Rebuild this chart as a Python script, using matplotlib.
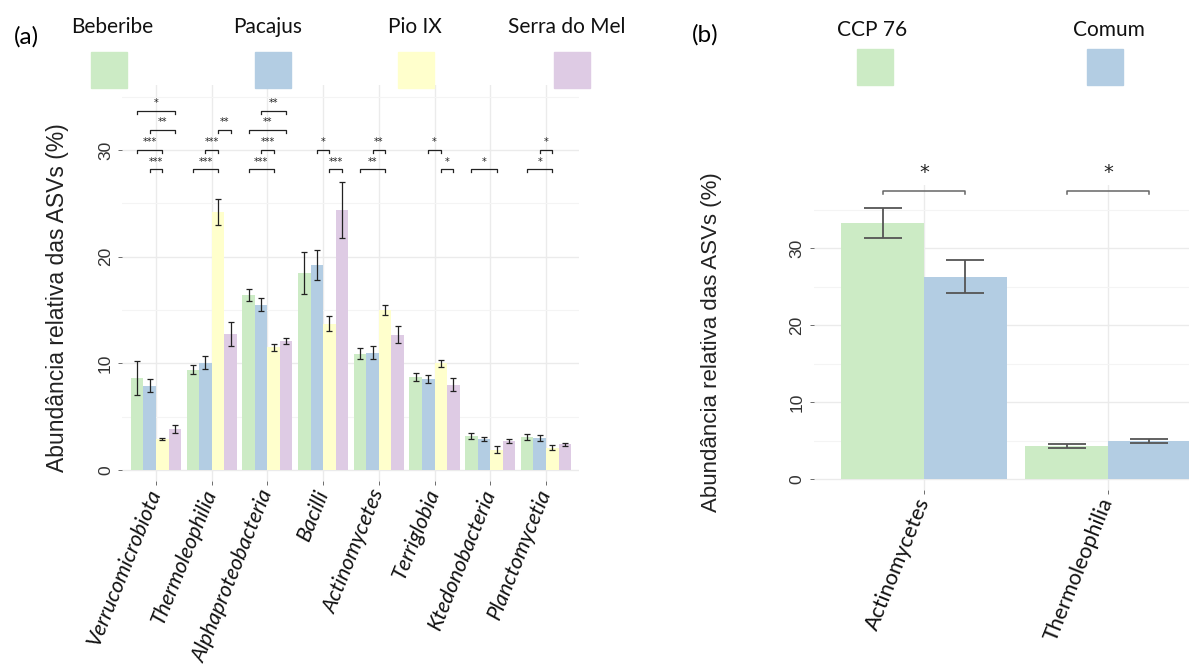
import numpy as np
import matplotlib
matplotlib.use("Agg")
from matplotlib import pyplot as plt
from matplotlib.patches import Rectangle

# ---- dados painel (a) ----
classes_a = ["Verrucomicrobiota", "Thermoleophilia", "Alphaproteobacteria", "Bacilli",
             "Actinomycetes", "Terriglobia", "Ktedonobacteria", "Planctomycetia"]
locais = ["Beberibe", "Pacajus", "Pio IX", "Serra do Mel"]

beberibe = [8.6, 9.4, 16.4, 18.5, 10.9, 8.7, 3.2, 3.1]
pacajus = [7.9, 10.05, 15.5, 19.2, 11.0, 8.55, 2.9, 3.0]
pio_ix = [2.9, 24.2, 11.5, 13.7, 15.0, 10.0, 1.9, 2.1]
serra = [3.85, 12.75, 12.1, 24.4, 12.7, 8.0, 2.75, 2.4]

beberibe_err = [1.6, 0.4, 0.55, 1.95, 0.5, 0.35, 0.3, 0.3]
pacajus_err = [0.6, 0.6, 0.6, 1.4, 0.6, 0.4, 0.2, 0.25]
pio_ix_err = [0.1, 1.25, 0.3, 0.7, 0.5, 0.3, 0.35, 0.2]
serra_err = [0.35, 1.15, 0.3, 2.6, 0.8, 0.6, 0.2, 0.17]

# (classe, barra i, barra j, nivel, rotulo)
sig_a = [(0, 0, 3, 3, "*"), (0, 1, 3, 2, "**"), (0, 0, 2, 1, "***"), (0, 1, 2, 0, "***"),
         (1, 0, 2, 0, "***"), (1, 1, 2, 1, "***"), (1, 2, 3, 2, "**"),
         (2, 0, 2, 0, "***"), (2, 1, 2, 1, "***"), (2, 0, 3, 2, "**"), (2, 1, 3, 3, "**"),
         (3, 1, 2, 1, "*"), (3, 2, 3, 0, "***"),
         (4, 0, 2, 0, "**"), (4, 1, 2, 1, "**"),
         (5, 1, 2, 1, "*"), (5, 2, 3, 0, "*"),
         (6, 0, 2, 0, "*"),
         (7, 0, 2, 0, "*"), (7, 1, 2, 1, "*")]
niveis_a = [28.2, 30.05, 31.9, 33.7]

# ---- dados painel (b) ----
classes_b = ["Actinomycetes", "Thermoleophilia"]
manejo = ["CCP 76", "Comum"]
ccp76 = [33.25, 4.3]
comum = [26.3, 4.95]
ccp76_err = [1.95, 0.25]
comum_err = [2.1, 0.25]
sig_b = ["*", "*"]
nivel_b = 37.4

cores = ["#CCEBC5", "#B3CDE3", "#FFFFCC", "#DECBE4"]
W, H = 1189, 668

fig = plt.figure(figsize=(W / 100, H / 100), dpi=100)

def ax_px(x0, x1, y0, y1):
    # caixa em pixels -> fracao da figura
    return fig.add_axes([x0 / W, 1 - y1 / H, (x1 - x0) / W, (y1 - y0) / H])

def estilo(ax, ymax):
    for s in ax.spines.values():
        s.set_visible(False)
    ax.set_yticks([0, 10, 20, 30])
    ax.set_yticks(np.arange(5, ymax, 10), minor=True)
    ax.grid(True, which="major", color="#EBEBEB", lw=1.0)
    ax.grid(True, which="minor", axis="y", color="#F4F4F4", lw=0.8)
    ax.set_axisbelow(True)
    ax.tick_params(axis="both", which="major", length=3, width=0.6, color="#555555")
    ax.tick_params(axis="both", which="minor", length=0)
    for t in ax.get_yticklabels():
        t.set_rotation(90)
        t.set_va("center")
        t.set_fontfamily("Liberation Sans")
        t.set_fontsize(12.5)
        t.set_color("#333333")

# ---------------- painel (a) ----------------
ax = ax_px(122, 579.4, 85, 481)
x = np.arange(len(classes_a))
larg = 0.225
series = [beberibe, pacajus, pio_ix, serra]
erros = [beberibe_err, pacajus_err, pio_ix_err, serra_err]
for k in range(4):
    xs = x + (k - 1.5) * larg
    ax.bar(xs, series[k], width=larg, color=cores[k], zorder=2)
    ax.errorbar(xs, series[k], yerr=erros[k], fmt="none", ecolor="#222222",
                elinewidth=0.9, capsize=2.5, capthick=0.9, zorder=3)

for c, i, j, n, lab in sig_a:
    x1 = c + (i - 1.5) * larg
    x2 = c + (j - 1.5) * larg
    y = niveis_a[n]
    ax.plot([x1, x1, x2, x2], [y - 0.3, y, y, y - 0.3], color="#222222", lw=0.9,
            zorder=4, clip_on=False)
    ax.text((x1 + x2) / 2, y + 0.25, lab, ha="center", va="bottom", fontsize=7,
            color="#222222", clip_on=False)

ax.set_xlim(-0.61, 7.6)
ax.set_ylim(-1.03, 36.1)
ax.set_xticks(x)
ax.set_xticklabels(classes_a)
estilo(ax, 36)
for t in ax.get_xticklabels():
    t.set_rotation(68)
    t.set_ha("right")
    t.set_va("center")
    t.set_rotation_mode("anchor")
    t.set_fontfamily("Lato")
    t.set_style("italic")
    t.set_fontsize(15.5)
    t.set_color("#111111")

fig.text(58 / W, 1 - 298 / H, "Abundância relativa das ASVs (%)", rotation=90,
         ha="center", va="center", fontsize=16.5, family="Liberation Sans", color="#222222")

# legenda (a)
fig.text(26 / W, 1 - 37 / H, "(a)", ha="center", va="center", fontsize=17.5, family="Lato")
leg_lx = [112, 268, 415, 567]
leg_sx = [109, 273, 416, 572]
for k in range(4):
    fig.text(leg_lx[k] / W, 1 - 27 / H, locais[k], ha="center", va="center",
             fontsize=15, family="Lato", color="#111111")
    fig.patches.append(Rectangle(((leg_sx[k] - 18) / W, 1 - 88 / H), 36 / W, 36 / H,
                                 transform=fig.transFigure, color=cores[k]))

# ---------------- painel (b) ----------------
bx = ax_px(813.6, 1218.4, 185, 490)
xb = np.arange(len(classes_b))
lb = 0.45
for k, (vals, errs) in enumerate([(ccp76, ccp76_err), (comum, comum_err)]):
    xs = xb + (k - 0.5) * lb
    bx.bar(xs, vals, width=lb, color=cores[k], zorder=2)
    bx.errorbar(xs, vals, yerr=errs, fmt="none", ecolor="#555555",
                elinewidth=1.3, capsize=14, capthick=1.3, zorder=3)

for c, lab in enumerate(sig_b):
    x1 = c - 0.5 * lb
    x2 = c + 0.5 * lb
    bx.plot([x1, x1, x2, x2], [nivel_b - 0.35, nivel_b, nivel_b, nivel_b - 0.35],
            color="#666666", lw=1.1, zorder=4, clip_on=False)
    bx.text(c, nivel_b + 1.2, lab, ha="center", va="bottom", fontsize=14,
            color="#222222", clip_on=False)

bx.set_xlim(-0.6, 1.6)
bx.set_ylim(-1.43, 38.2)
bx.set_xticks(xb)
bx.set_xticklabels(classes_b)
estilo(bx, 38)
for t in bx.get_xticklabels():
    t.set_rotation(68)
    t.set_ha("right")
    t.set_va("center")
    t.set_rotation_mode("anchor")
    t.set_fontfamily("Lato")
    t.set_fontsize(15.5)
    t.set_color("#111111")

fig.text(712 / W, 1 - 342 / H, "Abundância relativa das ASVs (%)", rotation=90,
         ha="center", va="center", fontsize=16, family="Liberation Sans", color="#222222")

fig.text(705 / W, 1 - 35 / H, "(b)", ha="center", va="center", fontsize=17.5, family="Lato")
leg_b_lx = [872, 1109]
leg_b_sx = [875, 1105]
for k in range(2):
    fig.text(leg_b_lx[k] / W, 1 - 30 / H, manejo[k], ha="center", va="center",
             fontsize=15, family="Lato", color="#111111")
    fig.patches.append(Rectangle(((leg_b_sx[k] - 18) / W, 1 - 85 / H), 36 / W, 36 / H,
                                 transform=fig.transFigure, color=cores[k]))

fig.savefig("out.png", dpi=100)
